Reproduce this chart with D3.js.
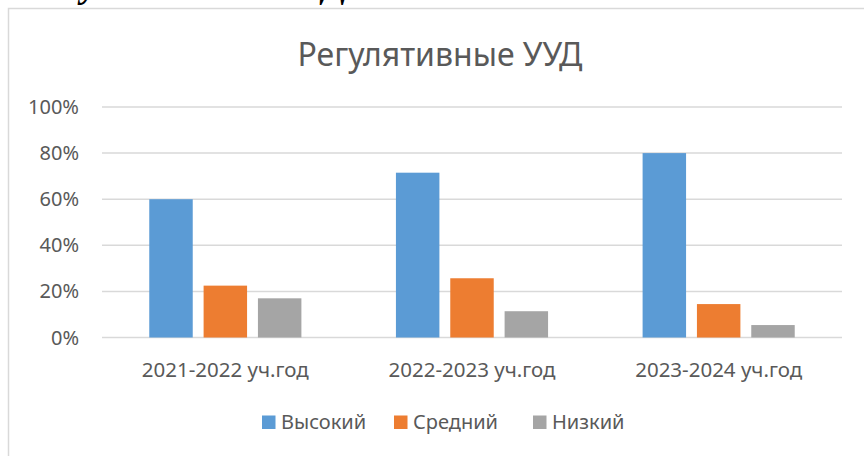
<!doctype html>
<html>
<head>
<meta charset="utf-8">
<style>
    body { margin: 0; background: #fff; }
    svg { display: block; }
    text { font-family: 'Noto Sans', sans-serif; fill: #595959; }
    text.title { font-size: 32px; }
    text.tick { font-size: 20px; }
    text.cat { font-size: 20.5px; }
    text.legend { font-size: 20px; }
    text.doc { font-family: 'Liberation Serif', serif; font-weight: bold; font-style: italic; font-size: 37px; fill: #000; }
    line.grid { stroke: #d9d9d9; stroke-width: 1.5; }
    path.frame { stroke: #d9d9d9; stroke-width: 1.5; fill: none; }
</style>
<script src="https://d3js.org/d3.v7.min.js"></script>
</head>
<body>
<svg width="864" height="456"></svg>
<script>
    const categories = ['2021-2022 уч.год', '2022-2023 уч.год', '2023-2024 уч.год']
    const series = ['Высокий', 'Средний', 'Низкий']
    const colors = ['#5b9bd5', '#ed7d31', '#a5a5a5']
    const vysokiy = [0.60, 0.715, 0.80]
    const sredniy = [0.225, 0.257, 0.145]
    const nizkiy = [0.17, 0.114, 0.054]
    const yTicks = [0, 0.2, 0.4, 0.6, 0.8, 1.0]

    const values = [vysokiy, sredniy, nizkiy]

    const svg = d3.select('svg')

    // heading of the document, cut off above the picture
    svg.append('text')
        .attr('class', 'doc')
        .attr('x', 30)
        .attr('y', -3)
        .text('Регулятивные УУД')

    // chart frame (only left and top visible)
    svg.append('path')
        .attr('class', 'frame')
        .attr('d', 'M8.5,470 V8.5 H880')

    const x0 = d3.scaleBand()
        .domain(categories)
        .range([102, 842])

    const x1 = d3.scaleBand()
        .domain(series)
        .range([0, x0.bandwidth()])
        .paddingInner(0.2)
        .paddingOuter(0.87)

    const y = d3.scaleLinear()
        .domain([0, 1])
        .range([337.5, 107])

    svg.append('g')
        .selectAll('line')
        .data(yTicks)
        .join('line')
        .attr('class', 'grid')
        .attr('x1', 102)
        .attr('x2', 842)
        .attr('y1', d => y(d))
        .attr('y2', d => y(d))

    svg.append('g')
        .selectAll('text')
        .data(yTicks)
        .join('text')
        .attr('class', 'tick')
        .attr('x', 79)
        .attr('y', d => y(d) + 7)
        .attr('text-anchor', 'end')
        .text(d3.format('.0%'))

    const groups = svg.append('g')
        .selectAll('g')
        .data(categories)
        .join('g')
        .attr('transform', d => `translate(${x0(d)},0)`)

    groups.selectAll('rect')
        .data((c, ci) => series.map((s, si) => ({ s, si, v: values[si][ci] })))
        .join('rect')
        .attr('x', d => x1(d.s))
        .attr('width', x1.bandwidth())
        .attr('y', d => y(d.v))
        .attr('height', d => y(0) - y(d.v))
        .attr('fill', d => colors[d.si])

    svg.append('g')
        .selectAll('text')
        .data(categories)
        .join('text')
        .attr('class', 'cat')
        .attr('x', d => x0(d) + x0.bandwidth() / 2)
        .attr('y', 377)
        .attr('text-anchor', 'middle')
        .text(d => d)

    svg.append('text')
        .attr('class', 'title')
        .attr('x', 440)
        .attr('y', 66)
        .attr('text-anchor', 'middle')
        .text('Регулятивные УУД')

    const legendX = [262, 394, 533]
    const legend = svg.append('g')
        .selectAll('g')
        .data(series)
        .join('g')
        .attr('transform', (d, i) => `translate(${legendX[i]},0)`)

    legend.append('rect')
        .attr('y', 415.5)
        .attr('width', 13.5)
        .attr('height', 13.5)
        .attr('fill', (d, i) => colors[i])

    legend.append('text')
        .attr('class', 'legend')
        .attr('x', 19)
        .attr('y', 429)
        .text(d => d)
</script>
</body>
</html>
